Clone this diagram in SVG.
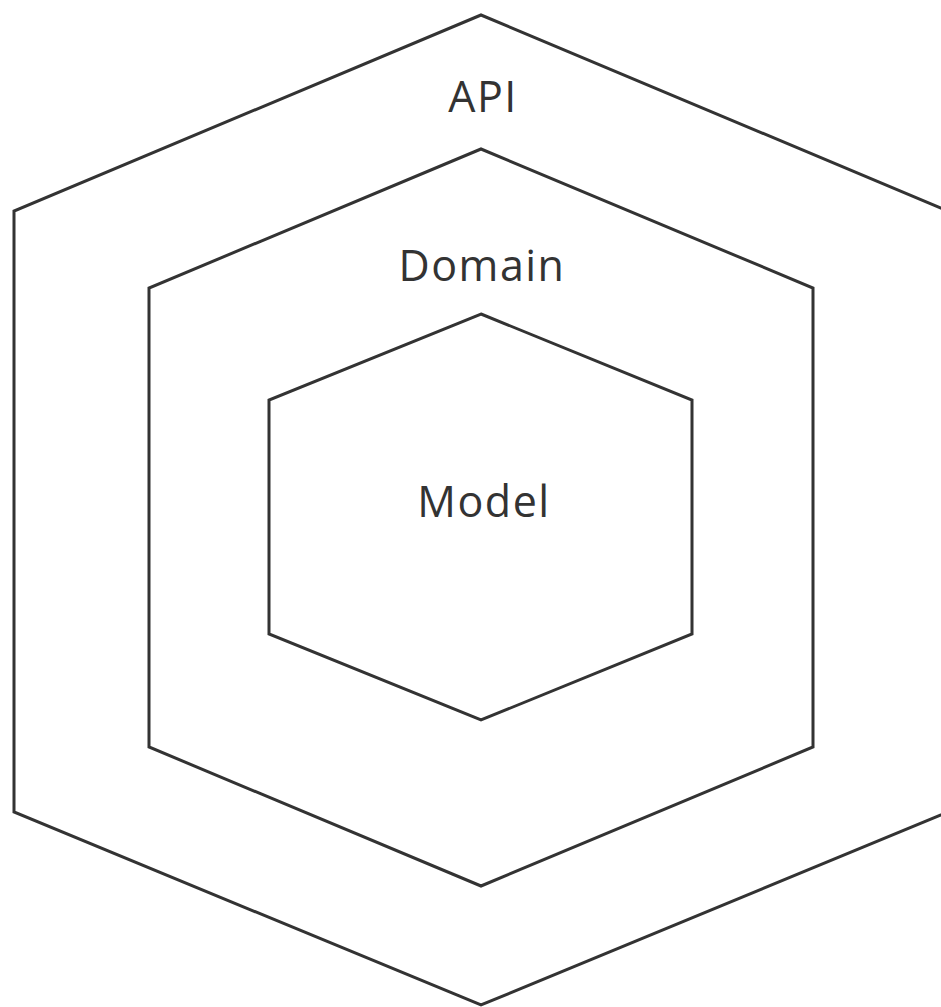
<svg xmlns="http://www.w3.org/2000/svg" width="941" height="1007" viewBox="0 0 941 1007">
<style>
.hex{fill:none;stroke:#333;stroke-width:3;stroke-linejoin:miter}
.lbl{font-family:"Open Sans","Noto Sans",sans-serif;font-size:43px;letter-spacing:1.5px;fill:#333;text-anchor:middle}
</style>
<rect width="941" height="1007" fill="#fff"/>
<g id="api">
<polygon class="hex" points="481,15 948,211 948,812 481,1005 14,812 14,211"/>
<text class="lbl" x="483" y="112">API</text>
</g>
<g id="domain">
<polygon class="hex" points="481,149 813,288 813,747 481,886 149,747 149,288"/>
<text class="lbl" x="482" y="281">Domain</text>
</g>
<g id="model">
<polygon class="hex" points="481,314 692,400 692,634 481,720 269,634 269,400"/>
<text class="lbl" x="484" y="517">Model</text>
</g>
<g id="connectors"></g>
</svg>
